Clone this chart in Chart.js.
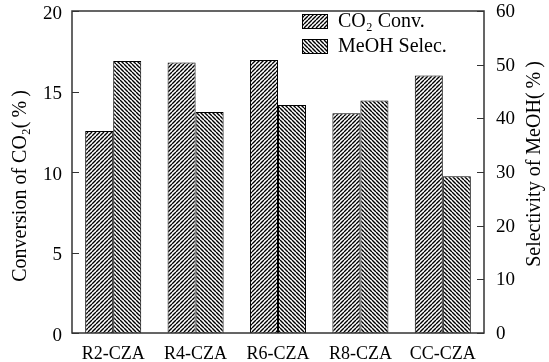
<!DOCTYPE html>
<html>
<head>
<meta charset="utf-8">
<script src="https://cdn.jsdelivr.net/npm/chart.js@4.4.0/dist/chart.umd.min.js"></script>
<style>
  html, body { margin: 0; padding: 0; background: #fff; }
  #wrap { width: 549px; height: 362px; position: relative; }
</style>
</head>
<body>
<div id="wrap"><canvas id="chart"></canvas></div>
<script>
// data
const catalysts = ['R2-CZA', 'R4-CZA', 'R6-CZA', 'R8-CZA', 'CC-CZA'];
const co2Conv = [12.55, 16.8, 16.95, 13.65, 16.0];
const meohSelec = [50.7, 41.2, 42.5, 43.3, 29.2];
const seriesNames = ['CO₂ Conv.', 'MeOH Selec.'];
const leftTicks = [0, 5, 10, 15, 20];
const rightTicks = [0, 10, 20, 30, 40, 50, 60];
const leftTitle = 'Conversion of CO₂(\u2009%\u2009)';
const rightTitle = 'Selectivity of MeOH(\u2009%\u2009)';

const FONT = '"Liberation Serif", "DejaVu Serif", serif';

// hatch pattern: dir 1 = "///", dir -1 = "\\\"
function hatch(dir) {
    const s = 4;
    const c = document.createElement('canvas');
    c.width = s; c.height = s;
    const g = c.getContext('2d');
    g.fillStyle = '#fff';
    g.fillRect(0, 0, s, s);
    g.strokeStyle = '#000';
    g.lineWidth = 1.4;
    g.beginPath();
    for (let k = -1; k <= 1; k++) {
        if (dir > 0) {
            g.moveTo(k * s, s); g.lineTo(k * s + s, 0);
        } else {
            g.moveTo(k * s, 0); g.lineTo(k * s + s, s);
        }
    }
    g.stroke();
    return g.createPattern(c, 'repeat');
}

const patCO2 = hatch(1);
const patMeOH = hatch(-1);

function vText(ctx, text, x, y) {
    ctx.save();
    ctx.translate(x, y);
    ctx.rotate(-Math.PI / 2);
    ctx.textAlign = 'center';
    ctx.textBaseline = 'middle';
    ctx.fillText(text, 0, 0);
    ctx.restore();
}

// frame, inward ticks, axis titles and legend
const framePlugin = {
    id: 'frame',
    afterDraw(chart) {
        const ctx = chart.ctx;
        const a = chart.chartArea;
        ctx.save();
        ctx.strokeStyle = '#333';
        ctx.lineWidth = 1.5;
        ctx.strokeRect(a.left, a.top, a.right - a.left, a.bottom - a.top);

        ctx.lineWidth = 1.2;
        ctx.beginPath();
        leftTicks.forEach(v => {
            const y = Math.round(chart.scales.y.getPixelForValue(v)) + 0.5;
            ctx.moveTo(a.left, y); ctx.lineTo(a.left + 7, y);
        });
        rightTicks.forEach(v => {
            const y = Math.round(chart.scales.y1.getPixelForValue(v)) + 0.5;
            ctx.moveTo(a.right, y); ctx.lineTo(a.right - 7, y);
        });
        ctx.stroke();

        // axis titles, both read bottom to top
        ctx.fillStyle = '#000';
        ctx.font = '20px ' + FONT;
        vText(ctx, leftTitle, 21, 186);
        vText(ctx, rightTitle, 535, 164);

        // legend in the upper right of the plot
        const pats = [patCO2, patMeOH];
        const lx = a.right - 182, ly = a.top + 10;
        ctx.font = '20px ' + FONT;
        ctx.textBaseline = 'middle';
        seriesNames.forEach((name, i) => {
            const y = ly + i * 25;
            ctx.fillStyle = pats[i];
            ctx.fillRect(lx, y - 7, 25, 14);
            ctx.strokeStyle = '#000';
            ctx.lineWidth = 1;
            ctx.strokeRect(lx + 0.5, y - 6.5, 25, 14);
            ctx.fillStyle = '#000';
            ctx.fillText(name, lx + 36, y + 1);
        });
        ctx.restore();
    }
};

function noPad(s) {
    s.paddingTop = 0;
    s.paddingBottom = 0;
}

new Chart(document.getElementById('chart'), {
    type: 'bar',
    data: {
        labels: catalysts,
        datasets: [
            {
                label: seriesNames[0],
                data: co2Conv,
                yAxisID: 'y',
                backgroundColor: patCO2,
                borderColor: '#000',
                borderWidth: 1
            },
            {
                label: seriesNames[1],
                data: meohSelec,
                yAxisID: 'y1',
                backgroundColor: patMeOH,
                borderColor: '#000',
                borderWidth: 1
            }
        ]
    },
    plugins: [framePlugin],
    options: {
        responsive: true,
        maintainAspectRatio: false,
        animation: false,
        layout: { padding: { top: 11, right: 0, left: 0, bottom: 0 } },
        datasets: { bar: { categoryPercentage: 0.68, barPercentage: 1 } },
        plugins: { legend: { display: false }, tooltip: { enabled: false } },
        scales: {
            x: {
                grid: { display: false, drawTicks: false },
                border: { display: false },
                ticks: { color: '#000', font: { family: FONT, size: 18 }, padding: 10, maxRotation: 0 },
                afterFit(s) { s.height = 29; }
            },
            y: {
                position: 'left',
                min: 0, max: 20,
                afterBuildTicks(s) { s.ticks = leftTicks.map(v => ({ value: v })); },
                grid: { display: false, drawTicks: false },
                border: { display: false },
                ticks: { color: '#000', font: { family: FONT, size: 19 }, padding: 10, labelOffset: 3 },
                afterFit(s) { s.width = 72; noPad(s); }
            },
            y1: {
                position: 'right',
                min: 0, max: 60,
                afterBuildTicks(s) { s.ticks = rightTicks.map(v => ({ value: v })); },
                grid: { display: false, drawTicks: false },
                border: { display: false },
                ticks: { color: '#000', font: { family: FONT, size: 19 }, padding: 12, labelOffset: 1 },
                afterFit(s) { s.width = 65; noPad(s); }
            }
        }
    }
});
</script>
</body>
</html>
